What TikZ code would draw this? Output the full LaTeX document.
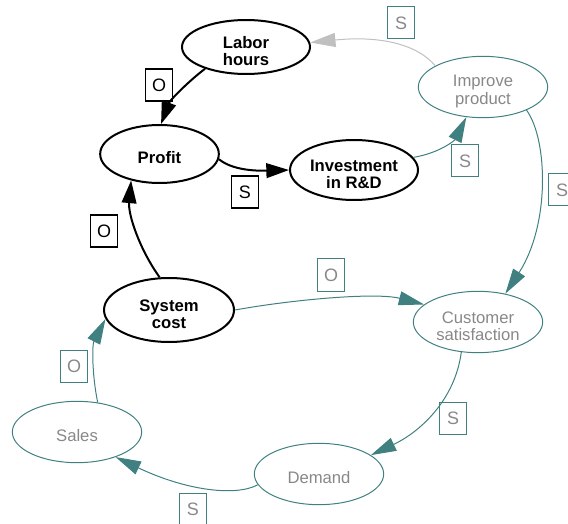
\documentclass[tikz,border=0pt]{standalone}
\usepackage{fontspec}
\setmainfont{Liberation Sans}
\usetikzlibrary{arrows.meta, shapes.geometric}

\definecolor{loopteal}{HTML}{408080}
\definecolor{textgrey}{HTML}{888888}
\definecolor{edgegrey}{HTML}{C0C0C0}

\begin{document}
\begin{tikzpicture}[x=0.75pt, y=-0.75pt,
    mainvar/.style={ellipse, draw, line width=1.5pt, inner sep=0pt, align=center,
        minimum width=96pt, minimum height=45pt, execute at begin node=\rule{0pt}{15pt},
        font=\fontsize{12.5}{13.3}\selectfont\bfseries},
    loopvar/.style={ellipse, draw=loopteal, line width=0.75pt, text=textgrey, inner sep=0pt,
        align=center, minimum width=97pt, minimum height=46pt, execute at begin node=\rule{0pt}{15pt},
        font=\fontsize{12.5}{13.3}\selectfont},
    twoline/.style={execute at begin node=\rule{0pt}{28.5pt}},
    mainlink/.style={line width=1.5pt, -{Triangle[length=17pt, width=11pt]}},
    looplink/.style={loopteal, line width=0.75pt, -{Triangle[length=19pt, width=10.5pt]}},
    greylink/.style={edgegrey, line width=0.75pt, -{Triangle[length=19pt, width=10.5pt]}},
    mainlbl/.style={draw, line width=0.9pt, inner sep=0pt, minimum width=20pt, minimum height=24pt,
        font=\fontsize{13.5}{16}\selectfont},
    looplbl/.style={mainlbl, draw=loopteal, line width=0.75pt, text=textgrey}]

    \useasboundingbox (0,0) rectangle (568,524);
    \clip (0,0) rectangle (568,524);

    % Variables
    \node[mainvar, twoline, minimum height=37.5pt] (labor) at (246,47) {Labor\\hours};
    \node[mainvar, minimum width=89pt, minimum height=43.5pt] (profit) at (159.5,154) {Profit};
    \node[mainvar, twoline] (invest) at (354,170) {Investment\\in R\&D};
    \node[mainvar, twoline, minimum width=97.5pt, minimum height=48pt] (system) at (169,310) {System\\cost};
    \node[loopvar, twoline] (improve) at (483,87) {Improve\\product};
    \node[loopvar, twoline] (customer) at (478,322) {Customer\\satisfaction};
    \node[loopvar] (sales) at (77,432) {Sales};
    \node[loopvar] (demand) at (319,474) {Demand};

    % Black links
    \draw[mainlink] (labor.208) .. controls (190,80) and (170,100) .. (profit.87);
    \draw[mainlink] (profit.-5) .. controls (232,170) and (255,171) .. (invest.west);
    \draw[mainlink] (system.106) .. controls (140,250) and (128,215) .. (profit.223);

    % Loop links
    \draw[greylink] (improve.156) .. controls (415,42) and (375,36) .. (labor.4);
    \draw[looplink] (invest.12) .. controls (440,153) and (455,140) .. (improve.241);
    \draw[looplink] (improve.332) .. controls (548,140) and (550,225) .. (customer.46);
    \draw[looplink] (system.east) .. controls (290,300) and (375,292) .. (customer.162);
    \draw[looplink] (customer.241) .. controls (455,400) and (420,432) .. (demand.20);
    \draw[looplink] (demand.190) .. controls (235,497) and (185,490) .. (sales.327);
    \draw[looplink] (sales.55) .. controls (92,375) and (92,345) .. (system.188);

    % Link signs
    \foreach \n/\x/\y/\t in {lblA/159/85/O, lblB/245/192/S, lblC/104/231/O} {
        \node[mainlbl] (\n) at (\x,\y) {\t};
    }
    \foreach \n/\x/\y/\t in {lblD/401/23/S, lblE/465/161/S, lblF/562/190/S, lblG/331/275/O,
                             lblH/74/366/O, lblI/453/418/S, lblJ/193/509/S} {
        \node[looplbl] (\n) at (\x,\y) {\t};
    }

\end{tikzpicture}
\end{document}
